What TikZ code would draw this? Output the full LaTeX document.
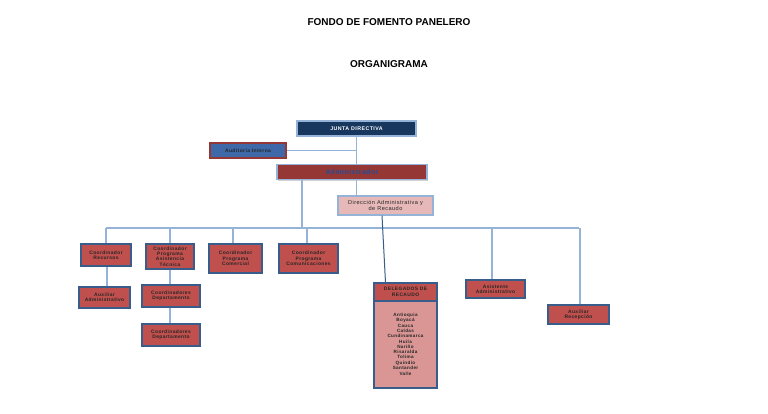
\documentclass[tikz,border=0pt]{standalone}
\usepackage{fontspec}
\setmainfont{Liberation Sans}
\newfontfamily\boxfont[LetterSpace=8]{Liberation Sans}
\usetikzlibrary{shadows}
\definecolor{navy}{HTML}{17375E}
\definecolor{lblue}{HTML}{95B3D7}
\definecolor{bdr}{HTML}{385D8A}
\definecolor{redf}{HTML}{C0504D}
\definecolor{darkred}{HTML}{953735}
\definecolor{pinkf}{HTML}{E6B9B8}
\definecolor{bodyf}{HTML}{D99694}
\definecolor{audf}{HTML}{3E68A8}
\definecolor{txtblue}{HTML}{1F4E9A}
\tikzset{
  box/.style={draw=bdr, line width=1.1pt, fill=redf, inner sep=1pt, align=center,
    font=\boxfont\bfseries\fontsize{4.9}{5.4}\selectfont, text=black!85,
    drop shadow={shadow xshift=1pt, shadow yshift=-1pt, opacity=0.35}},
  conn/.style={draw=lblue, line width=1.3pt},
  title/.style={font=\bfseries\fontsize{10}{12}\selectfont, text=black}
}
\begin{document}
\begin{tikzpicture}[x=1pt,y=-1pt]
\useasboundingbox[fill=white] (0,0) rectangle (768,413);
\node[title] (t1) at (389,22) {FONDO DE FOMENTO PANELERO};
\node[title] (t2) at (389,64) {ORGANIGRAMA};

% boxes
\node[box, fill=navy, draw=lblue, minimum width=119pt, minimum height=15pt, text=white, font=\boxfont\bfseries\fontsize{5.3}{6}\selectfont] (junta) at (356.5,128.5) {JUNTA DIRECTIVA};
\node[box, fill=audf, draw=darkred, minimum width=76pt, minimum height=15pt, font=\boxfont\bfseries\fontsize{5}{6}\selectfont] (audit) at (248,150.5) {Auditoría Interna};
\node[box, fill=darkred, draw=lblue, minimum width=150pt, minimum height=15pt, text=txtblue, font=\boxfont\bfseries\fontsize{6.8}{7.5}\selectfont] (admin) at (352,172) {Administrador};
\node[box, fill=pinkf, draw=lblue, minimum width=95pt, minimum height=19pt, font=\boxfont\fontsize{5.6}{6.4}\selectfont] (direc) at (385.5,205.5) {Dirección Administrativa y\\de Recaudo};

\node[box, minimum width=50pt, minimum height=22pt] (recursos) at (106,255) {Coordinador\\Recursos};
\node[box, minimum width=48pt, minimum height=25pt] (asist) at (170,256.5) {Coordinador\\Programa\\Asistencia\\Técnica};
\node[box, minimum width=53pt, minimum height=29pt] (comer) at (235.5,258.5) {Coordinador\\Programa\\Comercial};
\node[box, minimum width=59pt, minimum height=29pt] (comun) at (308.5,258.5) {Coordinador\\Programa\\Comunicaciones};
\node[box, minimum width=51pt, minimum height=21pt] (auxadm) at (104.5,297.5) {Auxiliar\\Administrativo};
\node[box, minimum width=58pt, minimum height=22pt] (dept1) at (171,296) {Coordinadores\\Departamento};
\node[box, minimum width=58pt, minimum height=22pt] (dept2) at (171,335) {Coordinadores\\Departamento};
\node[box, minimum width=59pt, minimum height=18pt] (asistadm) at (495.5,289) {Asistente\\Administrativo};
\node[box, minimum width=61pt, minimum height=19pt] (recep) at (578.5,314.5) {Auxiliar\\Recepción};

\node[box, fill=bodyf, minimum width=63pt, minimum height=87pt, font=\boxfont\bfseries\fontsize{4.6}{5.3}\selectfont] (delbody) at (405.5,344.5) {Antioquia\\Boyacá\\Cauca\\Caldas\\Cundinamarca\\Huila\\Nariño\\Risaralda\\Tolima\\Quindío\\Santander\\[1pt]Valle};
\node[box, minimum width=63pt, minimum height=18pt] (delhead) at (405.5,292) {DELEGADOS DE\\RECAUDO};

% connectors
\coordinate (bus) at (0,228);
\draw[conn] (junta.south) -- (admin.north -| junta.south);
\draw[conn] (audit.east) -- (audit.east -| junta.south);
\draw[conn] (admin.south -| junta.south) -- (direc.north -| junta.south);
\draw[conn] ([xshift=-50pt]admin.south) -- ([xshift=-50pt]admin.south |- bus);
\draw[conn] (recursos.north |- bus) -- (recep.north |- bus);
\draw[conn] (recursos.north |- bus) -- (recursos.north);
\draw[conn] (asist.north |- bus) -- (asist.north);
\draw[conn] ([xshift=-2.5pt]comer.north |- bus) -- ([xshift=-2.5pt]comer.north);
\draw[conn] ([xshift=-1.5pt]comun.north |- bus) -- ([xshift=-1.5pt]comun.north);
\draw[conn] ([xshift=-3.5pt]asistadm.north |- bus) -- ([xshift=-3.5pt]asistadm.north);
\draw[conn] ([xshift=1.5pt]recep.north |- bus) -- ([xshift=1.5pt]recep.north);
\draw[conn] ([xshift=1pt]recursos.south) -- ([xshift=2.5pt]auxadm.north);
\draw[conn] (asist.south) -- ([xshift=-1pt]dept1.north);
\draw[conn] ([xshift=-1pt]dept1.south) -- ([xshift=-1pt]dept2.north);
\draw[draw=bdr, line width=1pt] ([xshift=-3.5pt]direc.south) -- ([xshift=-20pt]delhead.north);
\end{tikzpicture}
\end{document}
